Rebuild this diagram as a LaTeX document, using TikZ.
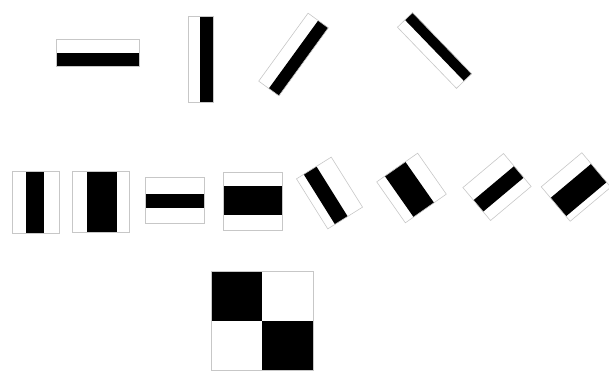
\documentclass[tikz,border=0pt]{standalone}
\usetikzlibrary{positioning}
\begin{document}
\begin{tikzpicture}[x=1pt, y=1pt, frame/.style={draw=black!22, line width=0.6pt}, bar/.style={fill=black}]
\path[use as bounding box] (0,0) rectangle (609,372);
% first row: edge features
\fill[bar] (56,306) rectangle (139,319);
\draw[frame] (56,306) rectangle (139,333);
\fill[bar] (200,270) rectangle (213,356);
\draw[frame] (188,270) rectangle (213,356);
\begin{scope}[shift={(293.5,317.5)}, rotate=-36]
\fill[bar] (0,-42) rectangle (12.5,42);
\draw[frame] (-12.5,-42) rectangle (12.5,42);
\end{scope}
\begin{scope}[shift={(434.5,321.5)}, rotate=44]
\fill[bar] (0,-42.5) rectangle (10.5,42.5);
\draw[frame] (-10.5,-42.5) rectangle (10.5,42.5);
\end{scope}
% second row: line features
\fill[bar] (26,139) rectangle (44,201);
\draw[frame] (12,139) rectangle (59,201);
\fill[bar] (87,140) rectangle (117,201);
\draw[frame] (72,140) rectangle (129,201);
\fill[bar] (145,164) rectangle (204,178);
\draw[frame] (145,149) rectangle (204,195);
\fill[bar] (223,157) rectangle (282,186);
\draw[frame] (223,142) rectangle (282,200);
\begin{scope}[shift={(329.5,179)}, rotate=32]
\fill[bar] (-12,-29.5) rectangle (3,29.5);
\draw[frame] (-20.5,-29.5) rectangle (20.5,29.5);
\end{scope}
\begin{scope}[shift={(411.5,184)}, rotate=35]
\fill[bar] (-15,-25) rectangle (10,25);
\draw[frame] (-25,-25) rectangle (25,25);
\end{scope}
\begin{scope}[shift={(497,185)}, rotate=40]
\fill[bar] (-26.5,-10) rectangle (26.5,5);
\draw[frame] (-26.5,-21.5) rectangle (26.5,21.5);
\end{scope}
\begin{scope}[shift={(576,185)}, rotate=40]
\fill[bar] (-26.5,-16) rectangle (26.5,8);
\draw[frame] (-26.5,-22.5) rectangle (26.5,22.5);
\end{scope}
% third row: checkerboard
\fill[bar] (211,51) rectangle (262,101);
\fill[bar] (262,2) rectangle (313,51);
\draw[frame] (211,2) rectangle (313,101);
\end{tikzpicture}
\end{document}
